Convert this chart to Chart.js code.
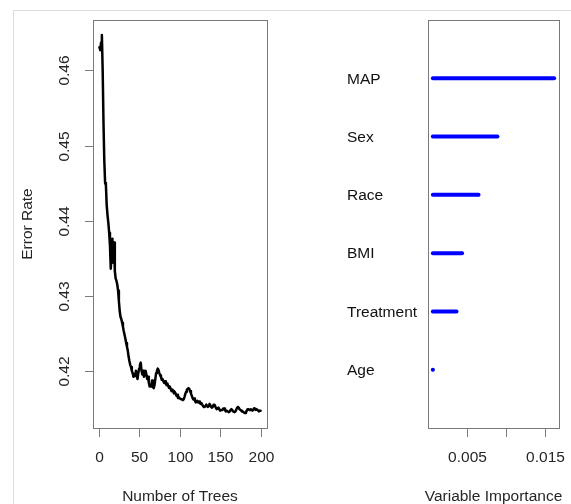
<!DOCTYPE html>
<html>
<head>
<meta charset="utf-8">
<script src="https://cdn.jsdelivr.net/npm/chart.js@4.4.1/dist/chart.umd.min.js"></script>
<style>
  html, body { margin: 0; padding: 0; background: #fff; }
  #page { position: relative; width: 571px; height: 504px; overflow: hidden; }
  #frame { position: absolute; left: 13px; top: 10px; right: -2px; bottom: -2px;
           border-left: 1px solid #dedede; border-top: 1px solid #dedede; }
  .panel { position: absolute; top: 0; height: 504px; }
  #leftPanel { left: 0; width: 290px; }
  #rightPanel { left: 290px; width: 281px; }
</style>
</head>
<body>
<div id="page">
  <div id="frame"></div>
  <div class="panel" id="leftPanel"><canvas id="errorChart"></canvas></div>
  <div class="panel" id="rightPanel"><canvas id="importanceChart"></canvas></div>
</div>
<script>
// OOB error rate for trees 1..200
const errorRate = [
  0.4631, 0.4627, 0.4637, 0.4647, 0.4600, 0.4530, 0.4480, 0.4450, 0.4447, 0.4420,
  0.4407, 0.4397, 0.4384, 0.4367, 0.4336, 0.4360, 0.4376, 0.4344, 0.4371, 0.4333,
  0.4323, 0.4320, 0.4315, 0.4307, 0.4293, 0.4280, 0.4272, 0.4269, 0.4264, 0.4259,
  0.4253, 0.4248, 0.4243, 0.4237, 0.4232, 0.4227, 0.4219, 0.4213, 0.4208, 0.4205,
  0.4200, 0.4197, 0.4192, 0.4196, 0.4193, 0.4200, 0.4195, 0.4189, 0.4197, 0.4203,
  0.4208, 0.4211, 0.4200, 0.4195, 0.4200, 0.4192, 0.4197, 0.4200, 0.4195, 0.4189,
  0.4192, 0.4184, 0.4179, 0.4179, 0.4179, 0.4187, 0.4179, 0.4177, 0.4181, 0.4189,
  0.4197, 0.4200, 0.4203, 0.4201, 0.4197, 0.4194, 0.4192, 0.4188, 0.4189, 0.4186,
  0.4184, 0.4186, 0.4183, 0.4181, 0.4183, 0.4180, 0.4177, 0.4179, 0.4176, 0.4173,
  0.4175, 0.4173, 0.4170, 0.4172, 0.4170, 0.4167, 0.4168, 0.4164, 0.4165, 0.4163,
  0.4163, 0.4162, 0.4162, 0.4161, 0.4162, 0.4165, 0.4169, 0.4172, 0.4175, 0.4176,
  0.4177, 0.4176, 0.4173, 0.4170, 0.4167, 0.4164, 0.4162, 0.4163, 0.4160, 0.4158,
  0.4159, 0.4160, 0.4158, 0.4159, 0.4157, 0.4156, 0.4157, 0.4155, 0.4153, 0.4152,
  0.4152, 0.4153, 0.4155, 0.4153, 0.4152, 0.4153, 0.4156, 0.4154, 0.4152, 0.4151,
  0.4152, 0.4155, 0.4155, 0.4153, 0.4150, 0.4149, 0.4150, 0.4151, 0.4149, 0.4147,
  0.4147, 0.4148, 0.4148, 0.4150, 0.4150, 0.4148, 0.4146, 0.4147, 0.4146, 0.4146,
  0.4145, 0.4146, 0.4148, 0.4149, 0.4148, 0.4146, 0.4146, 0.4145, 0.4146, 0.4148,
  0.4151, 0.4152, 0.4151, 0.4149, 0.4148, 0.4147, 0.4146, 0.4146, 0.4145, 0.4144,
  0.4144, 0.4145, 0.4147, 0.4149, 0.4149, 0.4148, 0.4148, 0.4149, 0.4148, 0.4147,
  0.4148, 0.4150, 0.4149, 0.4148, 0.4149, 0.4148, 0.4147, 0.4146, 0.4147, 0.4147
];
const treeTicks = [0, 50, 100, 150, 200];
const errorTicks = [0.42, 0.43, 0.44, 0.45, 0.46];

// Variable importance, top to bottom
const variables = ['MAP', 'Sex', 'Race', 'BMI', 'Treatment', 'Age'];
const importance = [0.0161, 0.0089, 0.0065, 0.0044, 0.0037, 0.0007];
const importanceTicks = [0.005, 0.010, 0.015];
const importanceTickLabels = ['0.005', '', '0.015'];

const FONT = '15.5px "Liberation Sans", Arial, sans-serif';
const TEXT = '#262626';

// R-style axis range: data range padded by 4% on each side
function rRange(lo, hi) {
  const d = (hi - lo) * 0.04;
  return [lo - d, hi + d];
}

// Draws the box, outside ticks, labels and titles the way base R graphics does
const rAxes = {
  id: 'rAxes',
  afterDraw(chart, args, opts) {
    const { ctx, chartArea: a, scales: { x, y } } = chart;
    ctx.save();
    ctx.strokeStyle = '#7a7a7a';
    ctx.lineWidth = 1;
    ctx.strokeRect(Math.round(a.left) + 0.5, Math.round(a.top) + 0.5,
      Math.round(a.right - a.left), Math.round(a.bottom - a.top));
    ctx.fillStyle = TEXT;
    ctx.font = FONT;
    ctx.textAlign = 'center';
    ctx.textBaseline = 'middle';

    // x axis
    opts.xTicks.forEach((t, i) => {
      const px = Math.round(x.getPixelForValue(t)) + 0.5;
      ctx.beginPath();
      ctx.moveTo(px, a.bottom);
      ctx.lineTo(px, a.bottom + 9);
      ctx.stroke();
      const label = opts.xLabels ? opts.xLabels[i] : String(t);
      if (label) ctx.fillText(label, px, a.bottom + 30);
    });
    ctx.fillText(opts.xTitle, (a.left + a.right) / 2, a.bottom + 69);

    // y axis with rotated labels
    if (opts.yTicks) {
      opts.yTicks.forEach(t => {
        const py = Math.round(y.getPixelForValue(t)) + 0.5;
        ctx.beginPath();
        ctx.moveTo(a.left, py);
        ctx.lineTo(a.left - 8, py);
        ctx.stroke();
        ctx.save();
        ctx.translate(a.left - 28, py);
        ctx.rotate(-Math.PI / 2);
        ctx.fillText(t.toFixed(2), 0, 0);
        ctx.restore();
      });
      ctx.save();
      ctx.translate(a.left - 65, (a.top + a.bottom) / 2);
      ctx.rotate(-Math.PI / 2);
      ctx.fillText(opts.yTitle, 0, 0);
      ctx.restore();
    }

    // dotchart-style category labels
    if (opts.categories) {
      ctx.textAlign = 'left';
      ctx.fillStyle = '#111';
      opts.categories.forEach((name, i) => {
        const py = y.getPixelForValue(opts.categories.length - i);
        ctx.fillText(name, a.left - 81, py + 1);
      });
    }
    ctx.restore();
  }
};

// Left panel: error rate vs number of trees
function initErrorChart() {
  const points = errorRate.map((v, i) => ({ x: i + 1, y: v }));
  const [xMin, xMax] = rRange(1, errorRate.length);
  const [yMin, yMax] = rRange(Math.min(...errorRate), Math.max(...errorRate));

  new Chart(document.getElementById('errorChart'), {
    type: 'line',
    data: {
      datasets: [{
        data: points,
        borderColor: '#000',
        borderWidth: 2.5,
        borderJoinStyle: 'round',
        borderCapStyle: 'round',
        pointRadius: 0,
        tension: 0
      }]
    },
    options: {
      responsive: true,
      maintainAspectRatio: false,
      animation: false,
      layout: { padding: { left: 93, right: 23, top: 20, bottom: 76 } },
      plugins: {
        legend: { display: false },
        tooltip: { enabled: false },
        rAxes: {
          xTicks: treeTicks,
          xTitle: 'Number of Trees',
          yTicks: errorTicks,
          yTitle: 'Error Rate'
        }
      },
      scales: {
        x: { type: 'linear', min: xMin, max: xMax, display: false },
        y: { type: 'linear', min: yMin, max: yMax, display: false }
      }
    },
    plugins: [rAxes]
  });
}

// Right panel: variable importance as lines from the smallest value
function initImportanceChart() {
  const base = Math.min(...importance);
  const [xMin, xMax] = rRange(base, Math.max(...importance));
  const datasets = variables.map((name, i) => ({
    label: name,
    data: [
      { x: base, y: variables.length - i },
      { x: importance[i], y: variables.length - i }
    ],
    borderColor: '#0000ff',
    backgroundColor: '#0000ff',
    borderWidth: 4,
    borderCapStyle: 'round',
    pointRadius: ctx => ctx.dataIndex === 1 ? 1.6 : 0,
    pointBorderWidth: 0
  }));

  new Chart(document.getElementById('importanceChart'), {
    type: 'line',
    data: { datasets },
    options: {
      responsive: true,
      maintainAspectRatio: false,
      animation: false,
      layout: { padding: { left: 138, right: 12, top: 20, bottom: 76 } },
      plugins: {
        legend: { display: false },
        tooltip: { enabled: false },
        rAxes: {
          xTicks: importanceTicks,
          xLabels: importanceTickLabels,
          xTitle: 'Variable Importance',
          categories: variables
        }
      },
      scales: {
        x: { type: 'linear', min: xMin, max: xMax, display: false },
        y: { type: 'linear', min: 0, max: variables.length + 1, display: false }
      }
    },
    plugins: [rAxes]
  });
}

initErrorChart();
initImportanceChart();
</script>
</body>
</html>
